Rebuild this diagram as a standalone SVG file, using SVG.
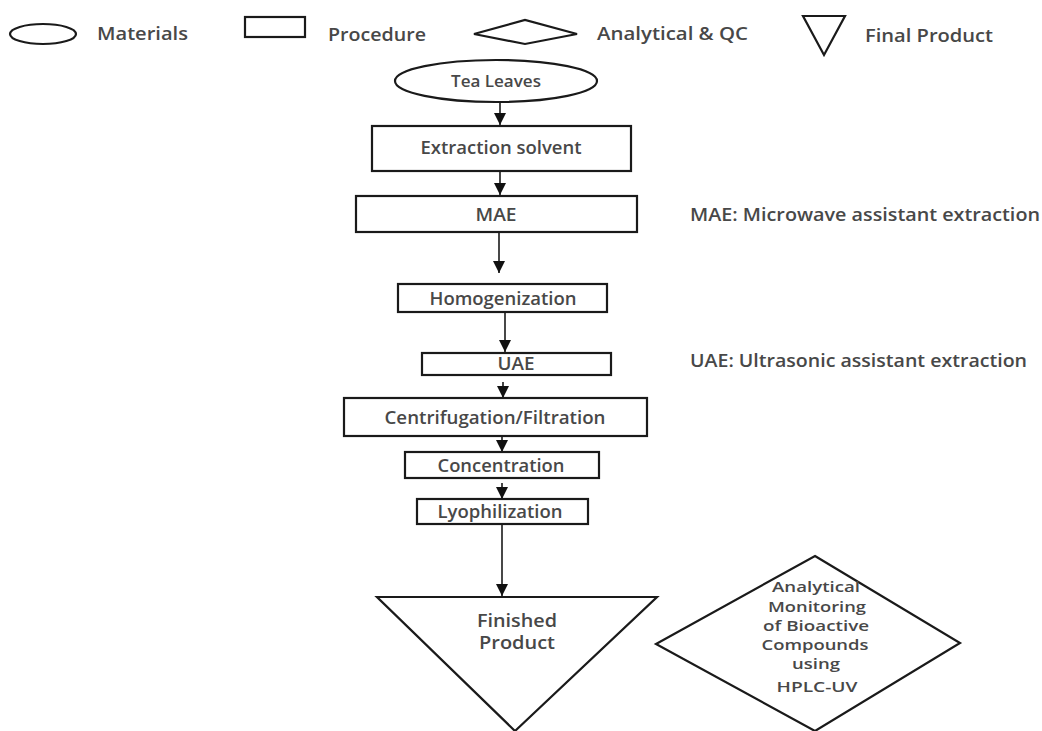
<svg xmlns="http://www.w3.org/2000/svg" width="1042" height="731" viewBox="0 0 1042 731">
<style>
.s{fill:#fff;stroke:#1a1a1a;stroke-width:2.2}
.t{font-family:"Open Sans","Liberation Sans",sans-serif;font-size:18px;font-weight:600;fill:#484848}
.d{font-size:14.5px}
.c{text-anchor:middle}
.l{stroke:#1a1a1a;stroke-width:1.6;fill:none}
</style>
<defs>
<marker id="ah" viewBox="0 0 12 12" refX="12" refY="6" markerWidth="12" markerHeight="12" markerUnits="userSpaceOnUse" orient="auto">
<path d="M0,0 L12,6 L0,12 z" fill="#111"/>
</marker>
</defs>
<rect width="1042" height="731" fill="#fff"/>
<g id="legend">
<ellipse class="s" cx="43" cy="34" rx="33" ry="10"/>
<text class="t" x="97" y="40" textLength="91" lengthAdjust="spacingAndGlyphs">Materials</text>
<rect class="s" x="245" y="17" width="60" height="20"/>
<text class="t" x="328" y="41" textLength="98" lengthAdjust="spacingAndGlyphs">Procedure</text>
<polygon class="s" points="474,34 525,20 577,34 525,44"/>
<text class="t" x="597" y="40" textLength="151" lengthAdjust="spacingAndGlyphs">Analytical &amp; QC</text>
<polygon class="s" points="803,16 845,16 824,55"/>
<text class="t" x="865" y="42" textLength="128" lengthAdjust="spacingAndGlyphs">Final Product</text>
</g>
<g id="connectors">
<line class="l" x1="500" y1="102" x2="500" y2="125" marker-end="url(#ah)"/>
<line class="l" x1="500" y1="171" x2="500" y2="195" marker-end="url(#ah)"/>
<line class="l" x1="499" y1="225" x2="499" y2="273" marker-end="url(#ah)"/>
<line class="l" x1="505" y1="312" x2="505" y2="352" marker-end="url(#ah)"/>
<line class="l" x1="503" y1="382" x2="503" y2="398" marker-end="url(#ah)"/>
<line class="l" x1="502" y1="436" x2="502" y2="452" marker-end="url(#ah)"/>
<line class="l" x1="502" y1="483" x2="502" y2="499" marker-end="url(#ah)"/>
<line class="l" x1="502" y1="524" x2="502" y2="596" marker-end="url(#ah)"/>
</g>
<g id="tea-leaves">
<ellipse class="s" cx="496" cy="81" rx="101" ry="21"/>
<text class="t c" x="496" y="87" style="font-size:16px" textLength="90" lengthAdjust="spacingAndGlyphs">Tea Leaves</text>
</g>
<g id="extraction-solvent">
<rect class="s" x="372" y="126" width="259" height="45"/>
<text class="t c" x="501" y="154" textLength="161" lengthAdjust="spacingAndGlyphs">Extraction solvent</text>
</g>
<g id="mae">
<rect class="s" x="356" y="196" width="281" height="36"/>
<text class="t c" x="496" y="221" textLength="41" lengthAdjust="spacingAndGlyphs">MAE</text>
</g>
<g id="homogenization">
<rect class="s" x="398" y="284" width="209" height="28"/>
<text class="t c" x="503" y="305" textLength="147" lengthAdjust="spacingAndGlyphs">Homogenization</text>
</g>
<g id="uae">
<rect class="s" x="422" y="353" width="189" height="22"/>
<text class="t c" x="516" y="370" textLength="37" lengthAdjust="spacingAndGlyphs">UAE</text>
</g>
<g id="centrifugation">
<rect class="s" x="344" y="398" width="303" height="38"/>
<text class="t c" x="495" y="424" textLength="221" lengthAdjust="spacingAndGlyphs">Centrifugation/Filtration</text>
</g>
<g id="concentration">
<rect class="s" x="405" y="452" width="194" height="26"/>
<text class="t c" x="501" y="472" textLength="127" lengthAdjust="spacingAndGlyphs">Concentration</text>
</g>
<g id="lyophilization">
<rect class="s" x="417" y="499" width="171" height="25"/>
<text class="t c" x="500" y="518" textLength="125" lengthAdjust="spacingAndGlyphs">Lyophilization</text>
</g>
<g id="finished-product">
<polygon class="s" points="377,597 657,597 515,731"/>
<text class="t c" x="517" y="627" textLength="80" lengthAdjust="spacingAndGlyphs">Finished</text>
<text class="t c" x="517" y="649" textLength="76" lengthAdjust="spacingAndGlyphs">Product</text>
</g>
<g id="analytical-monitoring">
<polygon class="s" points="815,556 960,643 815,731 656,644"/>
<text class="t d c" x="816" y="592" textLength="88" lengthAdjust="spacingAndGlyphs">Analytical</text>
<text class="t d c" x="817" y="612" textLength="98" lengthAdjust="spacingAndGlyphs">Monitoring</text>
<text class="t d c" x="816" y="631" textLength="106" lengthAdjust="spacingAndGlyphs">of Bioactive</text>
<text class="t d c" x="815" y="650" textLength="107" lengthAdjust="spacingAndGlyphs">Compounds</text>
<text class="t d c" x="816" y="669" textLength="48" lengthAdjust="spacingAndGlyphs">using</text>
<text class="t d c" x="817" y="692" textLength="81" lengthAdjust="spacingAndGlyphs">HPLC-UV</text>
</g>
<g id="notes">
<text class="t" x="690" y="221" textLength="350" lengthAdjust="spacingAndGlyphs">MAE: Microwave assistant extraction</text>
<text class="t" x="690" y="367" textLength="337" lengthAdjust="spacingAndGlyphs">UAE: Ultrasonic assistant extraction</text>
</g>
</svg>
